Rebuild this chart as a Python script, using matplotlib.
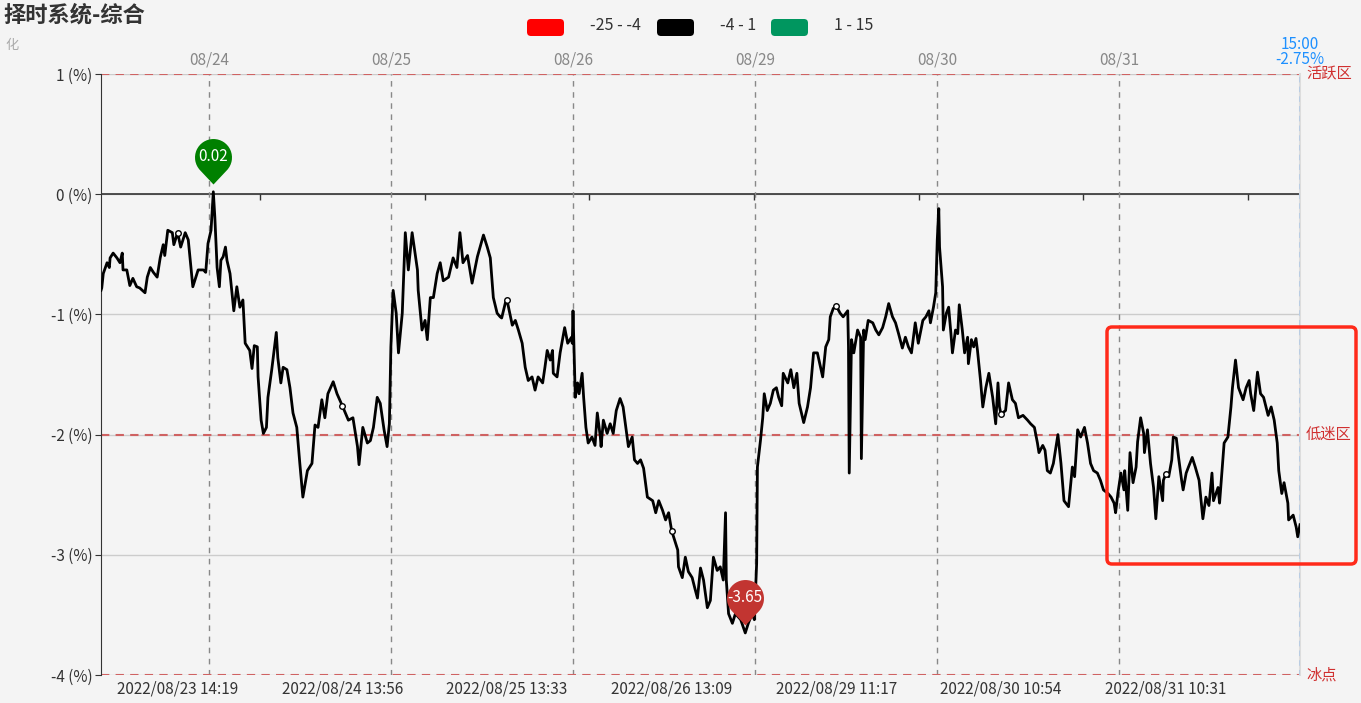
import numpy as np
import matplotlib
matplotlib.use("Agg")
import matplotlib.pyplot as plt
from matplotlib.patches import FancyBboxPatch
from matplotlib.path import Path
from matplotlib.transforms import IdentityTransform, blended_transform_factory

plt.rcParams['font.family'] = ['Noto Sans CJK SC', 'DejaVu Sans']

# trading minute since series start (08/23 11:08) and composite value in %
minute = [0, 1, 3, 8, 11, 12, 16, 21, 25, 28, 29, 34, 38, 42, 47, 51, 58, 61, 65, 69, 74, 78, 82, 84, 88,
          94, 96, 100, 101, 105, 111, 115, 121, 128, 135, 138, 141, 145, 148, 150, 153, 156, 158, 161, 164,
          166, 170, 175, 179, 183, 187, 190, 196, 199, 202, 206, 207, 211, 214, 218, 220, 225, 231, 233, 237,
          240, 245, 249, 253, 258, 262, 266, 272, 278, 282, 286, 291, 295, 299, 306, 311, 318, 326, 332, 338,
          340, 345, 351, 355, 359, 364, 368, 373, 377, 380, 382, 385, 389, 392, 397, 401, 405, 410, 417, 418,
          423, 427, 430, 434, 438, 443, 447, 451, 458, 464, 469, 473, 477, 483, 489, 496, 504, 509, 513, 517,
          522, 526, 528, 533, 535, 542, 546, 550, 555, 559, 563, 568, 572, 576, 582, 585, 588, 592, 595, 596,
          601, 605, 611, 615, 620, 621, 622, 625, 628, 630, 634, 636, 639, 642, 647, 651, 654, 658, 659, 662,
          667, 671, 675, 679, 684, 688, 691, 695, 700, 703, 707, 711, 715, 720, 727, 731, 735, 740, 744, 748,
          752, 760, 761, 766, 770, 774, 779, 783, 786, 790, 794, 799, 803, 807, 812, 816, 820, 823, 824, 827,
          832, 836, 843, 849, 853, 858, 861, 864, 865, 869, 872, 874, 878, 882, 886, 890, 893, 897, 899, 905,
          909, 913, 917, 920, 926, 931, 935, 939, 944, 951, 955, 959, 961, 965, 969, 974, 978, 984, 985, 986,
          989, 992, 997, 1001, 1002, 1005, 1007, 1011, 1017, 1021, 1025, 1030, 1034, 1038, 1043, 1047, 1051,
          1056, 1060, 1064, 1068, 1073, 1077, 1083, 1087, 1091, 1093, 1097, 1100, 1102, 1104, 1105, 1109,
          1110, 1114, 1117, 1120, 1122, 1126, 1129, 1131, 1135, 1138, 1142, 1143, 1147, 1150, 1153, 1155,
          1159, 1162, 1166, 1170, 1175, 1179, 1182, 1184, 1186, 1192, 1196, 1201, 1205, 1209, 1215, 1221,
          1225, 1230, 1234, 1236, 1241, 1244, 1247, 1251, 1255, 1261, 1265, 1269, 1275, 1280, 1283, 1287,
          1291, 1296, 1300, 1304, 1308, 1313, 1317, 1321, 1327, 1331, 1335, 1337, 1340, 1344, 1348, 1349,
          1353, 1356, 1360, 1364, 1366, 1370, 1374, 1375, 1379, 1383, 1387, 1390, 1394, 1399, 1400, 1403,
          1407, 1411, 1413, 1417, 1420, 1424, 1426, 1430, 1433, 1438, 1442, 1447, 1452, 1456, 1460, 1464,
          1466, 1472, 1474, 1480, 1485, 1489, 1491, 1495, 1499, 1505, 1509, 1513, 1515, 1519, 1524, 1528,
          1532, 1538, 1542, 1546, 1550, 1552, 1556, 1559, 1564, 1565, 1571, 1575, 1577, 1580]
pct = [-0.80, -0.78, -0.66, -0.57, -0.61, -0.53, -0.49, -0.53, -0.57, -0.49, -0.63, -0.63, -0.76, -0.70,
       -0.77, -0.78, -0.82, -0.69, -0.61, -0.65, -0.69, -0.53, -0.42, -0.51, -0.30, -0.32, -0.42, -0.34,
       -0.32, -0.44, -0.32, -0.38, -0.77, -0.63, -0.63, -0.65, -0.41, -0.30, 0.02, -0.19, -0.61, -0.77,
       -0.55, -0.52, -0.44, -0.55, -0.66, -0.97, -0.77, -0.94, -0.88, -1.24, -1.30, -1.45, -1.26, -1.27,
       -1.52, -1.88, -1.99, -1.94, -1.69, -1.46, -1.15, -1.36, -1.57, -1.44, -1.46, -1.61, -1.82, -1.94,
       -2.24, -2.52, -2.30, -2.24, -1.92, -1.94, -1.71, -1.86, -1.66, -1.56, -1.66, -1.76, -1.88, -1.86,
       -2.10, -2.25, -1.94, -2.07, -2.05, -1.94, -1.69, -1.74, -1.96, -2.10, -1.91, -1.27, -0.80, -0.99,
       -1.32, -0.99, -0.32, -0.63, -0.32, -0.63, -0.80, -1.13, -1.05, -1.21, -0.86, -0.86, -0.66, -0.57,
       -0.72, -0.69, -0.53, -0.61, -0.32, -0.57, -0.51, -0.74, -0.52, -0.34, -0.44, -0.53, -0.86, -0.99,
       -1.02, -1.03, -0.90, -0.88, -1.09, -1.05, -1.13, -1.24, -1.44, -1.55, -1.52, -1.63, -1.52, -1.57,
       -1.44, -1.30, -1.38, -1.30, -1.49, -1.52, -1.32, -1.11, -1.24, -1.19, -1.24, -0.97, -1.69, -1.57,
       -1.66, -1.49, -1.69, -1.94, -2.07, -2.02, -2.09, -1.82, -2.02, -2.10, -1.88, -1.99, -1.91, -1.99,
       -1.80, -1.70, -1.77, -1.91, -2.10, -2.02, -2.21, -2.24, -2.21, -2.28, -2.52, -2.55, -2.65, -2.55,
       -2.63, -2.71, -2.65, -2.80, -2.96, -3.10, -3.19, -3.02, -3.14, -3.19, -3.29, -3.36, -3.11, -3.21,
       -3.44, -3.38, -3.02, -3.13, -3.10, -3.21, -2.65, -3.21, -3.49, -3.57, -3.49, -3.54, -3.65, -3.57,
       -3.49, -3.54, -3.07, -2.27, -2.05, -1.86, -1.66, -1.80, -1.74, -1.63, -1.61, -1.69, -1.76, -1.49,
       -1.57, -1.46, -1.61, -1.49, -1.74, -1.90, -1.77, -1.61, -1.32, -1.32, -1.52, -1.27, -1.21, -1.02,
       -0.95, -0.93, -0.99, -1.02, -0.97, -1.27, -2.32, -1.21, -1.32, -1.13, -1.19, -2.20, -1.13, -1.21,
       -1.05, -1.07, -1.13, -1.17, -1.11, -1.02, -0.91, -1.02, -1.07, -1.16, -1.28, -1.19, -1.27, -1.32,
       -1.07, -1.24, -1.05, -1.02, -0.97, -1.07, -0.94, -0.82, -0.38, -0.12, -0.44, -0.77, -1.13, -0.99,
       -0.94, -1.16, -1.32, -1.13, -1.16, -0.92, -1.13, -1.32, -1.19, -1.41, -1.21, -1.27, -1.20, -1.30,
       -1.55, -1.77, -1.61, -1.49, -1.69, -1.91, -1.57, -1.77, -1.83, -1.80, -1.57, -1.71, -1.74, -1.86,
       -1.84, -1.88, -1.91, -1.94, -2.07, -2.15, -2.09, -2.13, -2.30, -2.32, -2.24, -2.00, -2.24, -2.55,
       -2.60, -2.27, -2.35, -1.96, -2.02, -1.94, -2.07, -2.24, -2.30, -2.32, -2.38, -2.46, -2.49, -2.52,
       -2.57, -2.65, -2.49, -2.32, -2.46, -2.30, -2.63, -2.15, -2.40, -2.27, -2.06, -1.86, -1.99, -2.15,
       -1.96, -2.24, -2.44, -2.70, -2.35, -2.55, -2.38, -2.33, -2.35, -2.21, -2.02, -2.03, -2.19, -2.38,
       -2.46, -2.32, -2.27, -2.19, -2.27, -2.38, -2.70, -2.52, -2.59, -2.32, -2.55, -2.44, -2.57, -2.07,
       -2.02, -1.77, -1.61, -1.38, -1.61, -1.71, -1.61, -1.55, -1.66, -1.80, -1.48, -1.66, -1.69, -1.84,
       -1.77, -1.88, -2.07, -2.30, -2.49, -2.40, -2.57, -2.71, -2.67, -2.77, -2.85, -2.75]

time_labels = ["2022/08/23 14:19", "2022/08/24 13:56", "2022/08/25 13:33", "2022/08/26 13:09",
               "2022/08/29 11:17", "2022/08/30 10:54", "2022/08/31 10:31"]
time_label_minute = [101, 318, 535, 752, 969, 1186, 1403]
days = ["08/24", "08/25", "08/26", "08/29", "08/30", "08/31"]
day_open_minute = [142, 382, 622, 862, 1102, 1342]
last_time = "15:00"

zone_levels = [1, -2, -4]
zone_names = ["活跃区", "低迷区", "冰点"]
piece_labels = ["-25 - -4", "-4 - 1", "1 - 15"]
piece_colors = ["#ff0000", "#000000", "#00965f"]

W, H = 1361, 703
BG = '#f4f4f4'
FS = 11
fig = plt.figure(figsize=(W / 100, H / 100), dpi=100, facecolor=BG)
ax = fig.add_axes([101 / W, 1 - 675 / H, 1199 / W, 601 / H], facecolor=BG)

x = np.array(minute)
y = np.array(pct)
ax.set_xlim(0, x[-1])
ax.set_ylim(-4, 1)

# grid and zero axis
yticks = [1, 0, -1, -2, -3, -4]
for v in yticks:
    ax.axhline(v, color='#cccccc', lw=1, zorder=0)
ax.axhline(0, color='#333333', lw=1.2, zorder=1)
half_step = (time_label_minute[1] - time_label_minute[0]) / 2
ax.vlines(np.array(time_label_minute) + half_step, -0.045, 0, colors='#333333', lw=1, zorder=1)
ax.vlines(day_open_minute, -4, 1, colors='#888888', linestyles=(0, (4, 4)), lw=1, zorder=1)

# zone mark lines
trans_r = blended_transform_factory(ax.transAxes, ax.transData)
for level, name in zip(zone_levels, zone_names):
    ax.axhline(level, color='#cf6262', ls=(0, (4, 3)), lw=1.5, zorder=2)
    ax.text(1.005, level, name, transform=trans_r, color='#d03030', fontsize=FS,
            ha='left', va='center', clip_on=False)

# last value marker line
ax.axvline(x[-1], color='#2e90ff', ls=(0, (4, 3)), lw=1, zorder=3)
ax.annotate(f"{last_time}\n{y[-1]:.2f}%", xy=(x[-1], 1), xytext=(0, 4), textcoords='offset points',
            ha='center', va='bottom', color='#1e90ff', fontsize=FS, linespacing=0.9,
            annotation_clip=False)

ax.plot(x, y, color='black', lw=2, zorder=5)
sym = np.isin(x, time_label_minute)
ax.plot(x[sym], y[sym], 'o', ms=4, mfc='white', mec='black', mew=1, zorder=6)


def pin_path():
    # balloon: circle above, tip pointing down near the data point
    arc = Path.arc(-43.2, 223.2)
    av = arc.vertices * 18.5 + np.array([0, 35])
    codes = arc.codes.copy()
    codes[0] = Path.LINETO
    verts = np.vstack([[0, 8], av, [0, 8]])
    codes = np.concatenate([[Path.MOVETO], codes, [Path.CLOSEPOLY]])
    return Path(verts, codes)


pin = pin_path()
for i, col in ((int(np.argmax(y)), '#008000'), (int(np.argmin(y)), '#c23531')):
    ax.plot(x[i], y[i], marker=pin, ms=77, color=col, mec='none', zorder=7, clip_on=False)
    ax.annotate(f"{y[i]:.2f}", xy=(x[i], y[i]), xytext=(0, 35 * 0.72), textcoords='offset points',
                ha='center', va='center', color='white', fontsize=FS, zorder=8)

# axes styling
ax.set_yticks(yticks, [f"{v} (%)" for v in yticks])
ax.tick_params(axis='y', length=4, color='#333333', labelcolor='#333333', labelsize=FS, pad=2)
ax.set_xticks(time_label_minute, time_labels)
ax.tick_params(axis='x', length=0, labelcolor='#333333', labelsize=FS, pad=4)
for s in ('top', 'bottom'):
    ax.spines[s].set_visible(False)
ax.spines['left'].set_color('#333333')
ax.spines['right'].set_color('#dddddd')
ax.spines['right'].set_linewidth(1.5)

top = ax.secondary_xaxis('top')
top.set_xticks(day_open_minute, days)
top.tick_params(length=0, labelcolor='#888888', labelsize=FS, pad=4)
top.spines['top'].set_visible(False)

# title block
fig.text(3 / W, 1 - 15 / H, "择时系统-综合", fontsize=16, fontweight='bold', color='#333333',
         ha='left', va='center')
fig.text(5 / W, 1 - 46 / H, "化", fontsize=9.5, color='#aaaaaa', ha='left', va='center')

# legend (visual map pieces)
leg_x = [527, 657, 771]
for lx, lab, col in zip(leg_x, piece_labels, piece_colors):
    fig.add_artist(FancyBboxPatch((lx, H - 36), 37, 17, boxstyle='round,pad=0,rounding_size=4',
                                  transform=IdentityTransform(), fc=col, ec='none'))
    fig.text((lx + 63) / W, 1 - 26 / H, lab, fontsize=11.5, color='#333333', ha='left', va='center')

# highlight box
fig.add_artist(FancyBboxPatch((1107, H - 564), 249, 237, boxstyle='round,pad=0,rounding_size=5',
                              transform=IdentityTransform(), fc='none', ec='#ff2a1a', lw=2.5))

fig.savefig('out.png', dpi=100, facecolor=BG)
